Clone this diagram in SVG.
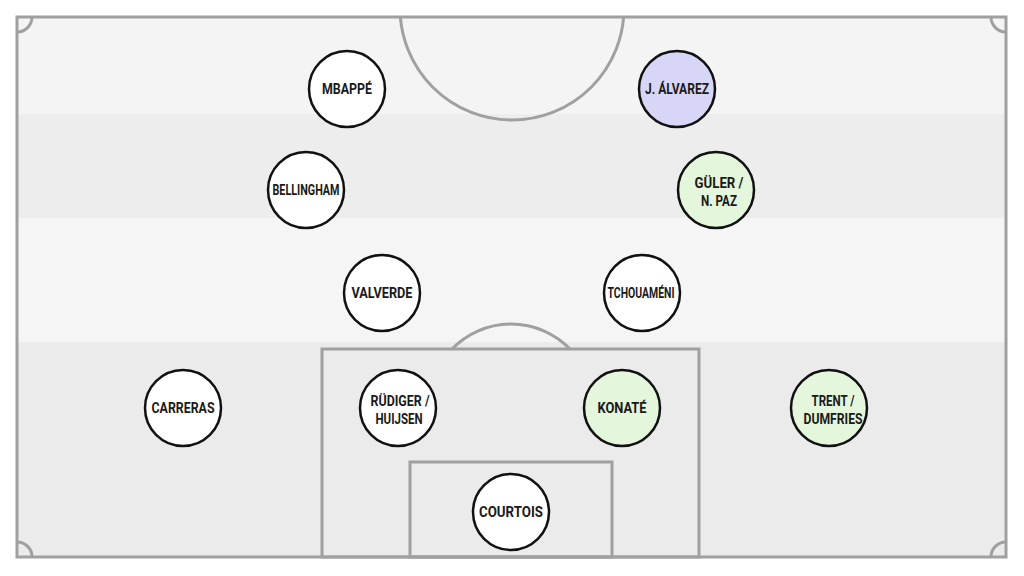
<svg xmlns="http://www.w3.org/2000/svg" width="1024" height="576" viewBox="0 0 1024 576">
<defs>
<style>
.line{fill:none;stroke:#a0a0a0;stroke-width:3}
.node{stroke:#111;stroke-width:2.5}
.w{fill:#ffffff}
.g{fill:#e4f6dc}
.p{fill:#d8d6f7}
.t{font-family:Roboto,"Liberation Sans",sans-serif;font-weight:700;font-size:14.5px;fill:#1a1a1a;text-anchor:middle}
</style>
<clipPath id="pitch"><rect x="17" y="17" width="989" height="540"/></clipPath>
</defs>
<rect width="1024" height="576" fill="#ffffff"/>
<g id="pitch-bg">
<rect x="17" y="17" width="989" height="97" fill="#f4f4f4"/>
<rect x="17" y="114" width="989" height="104" fill="#ededed"/>
<rect x="17" y="218" width="989" height="124" fill="#f5f5f5"/>
<rect x="17" y="342" width="989" height="215" fill="#ebebeb"/>
</g>
<g id="markings">
<g clip-path="url(#pitch)">
<circle class="line" cx="512" cy="8" r="112"/>
</g>
<path class="line" d="M452,349 A82,82 0 0 1 570,349"/>
<rect class="line" x="322" y="349" width="377" height="208"/>
<rect class="line" x="410" y="462" width="202" height="95"/>
<rect class="line" x="17" y="17" width="989" height="540"/>
<path class="line" d="M17,32 A15,15 0 0 0 32,17"/>
<path class="line" d="M991,17 A15,15 0 0 0 1006,32"/>
<path class="line" d="M17,542 A15,15 0 0 1 32,557"/>
<path class="line" d="M991,557 A15,15 0 0 1 1006,542"/>
</g>
<g id="connectors"></g>
<g id="mbappe"><circle class="node w" cx="347" cy="89" r="38"/><text class="t" x="347" y="94" textLength="50" lengthAdjust="spacingAndGlyphs">MBAPPÉ</text></g>
<g id="alvarez"><circle class="node p" cx="677" cy="89" r="38"/><text class="t" x="677" y="94" textLength="64" lengthAdjust="spacingAndGlyphs">J. ÁLVAREZ</text></g>
<g id="bellingham"><circle class="node w" cx="306" cy="190" r="38"/><text class="t" x="306" y="195" textLength="67" lengthAdjust="spacingAndGlyphs">BELLINGHAM</text></g>
<g id="guler"><circle class="node g" cx="716" cy="190" r="38"/><text class="t" x="719" y="188" textLength="49" lengthAdjust="spacingAndGlyphs">GÜLER /</text><text class="t" x="719" y="205.5" textLength="36" lengthAdjust="spacingAndGlyphs">N. PAZ</text></g>
<g id="valverde"><circle class="node w" cx="382" cy="293" r="38"/><text class="t" x="382" y="298" textLength="61" lengthAdjust="spacingAndGlyphs">VALVERDE</text></g>
<g id="tchouameni"><circle class="node w" cx="642" cy="293" r="38"/><text class="t" x="641" y="298" textLength="67" lengthAdjust="spacingAndGlyphs">TCHOUAMÉNI</text></g>
<g id="carreras"><circle class="node w" cx="183" cy="408" r="38"/><text class="t" x="183" y="413" textLength="63" lengthAdjust="spacingAndGlyphs">CARRERAS</text></g>
<g id="rudiger"><circle class="node w" cx="398" cy="408" r="38"/><text class="t" x="400" y="406" textLength="59" lengthAdjust="spacingAndGlyphs">RÜDIGER /</text><text class="t" x="399" y="423.5" textLength="47" lengthAdjust="spacingAndGlyphs">HUIJSEN</text></g>
<g id="konate"><circle class="node g" cx="622" cy="408" r="38"/><text class="t" x="622" y="413" textLength="49" lengthAdjust="spacingAndGlyphs">KONATÉ</text></g>
<g id="trent"><circle class="node g" cx="829" cy="408" r="38"/><text class="t" x="833" y="406" textLength="43" lengthAdjust="spacingAndGlyphs">TRENT /</text><text class="t" x="833" y="423.5" textLength="59" lengthAdjust="spacingAndGlyphs">DUMFRIES</text></g>
<g id="courtois"><circle class="node w" cx="511" cy="512" r="38"/><text class="t" x="511" y="517" textLength="64" lengthAdjust="spacingAndGlyphs">COURTOIS</text></g>
</svg>
